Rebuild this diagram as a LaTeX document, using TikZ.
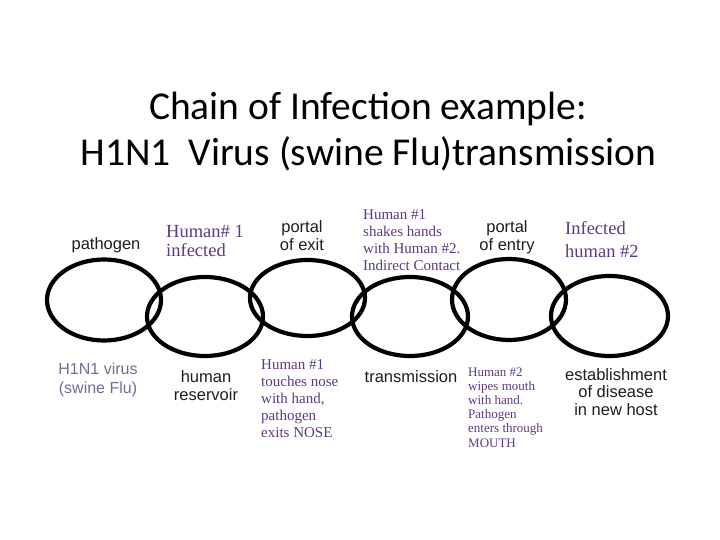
\documentclass[tikz,border=0pt]{standalone}
\usepackage{fontspec}
\usetikzlibrary{shapes.geometric}
\newfontfamily\titlefont{Carlito}
\newfontfamily\labfont{Liberation Sans}
\newfontfamily\notefont{Liberation Serif}
\definecolor{notepurple}{RGB}{94,58,130}
\definecolor{virusgray}{RGB}{122,106,146}
\definecolor{labgray}{RGB}{30,30,30}
\begin{document}
\begin{tikzpicture}[x=1pt,y=-1pt,
  ring/.style={draw=black, line width=4.2pt, ellipse, inner sep=0pt},
  ttl/.style={font=\titlefont\fontsize{39.5}{46}\selectfont, text=black, anchor=base, inner sep=0pt, align=center},
  lab/.style={font=\labfont\fontsize{16.5}{18}\selectfont, text=labgray, anchor=base, inner sep=0pt, align=center},
  labwide/.style={font=\labfont\fontsize{16.5}{17.5}\selectfont, text=labgray, anchor=base, inner sep=0pt, align=center},
  virus/.style={font=\labfont\fontsize{16}{19}\selectfont, text=virusgray, anchor=base, inner sep=0pt, align=center},
  bignote/.style={font=\notefont\fontsize{18.5}{19}\selectfont, text=notepurple, anchor=base west, inner sep=0pt, align=left},
  bignoteb/.style={font=\notefont\fontsize{18.5}{23}\selectfont, text=notepurple, anchor=base west, inner sep=0pt, align=left},
  midnote/.style={font=\notefont\fontsize{15}{17}\selectfont, text=notepurple, anchor=base west, inner sep=0pt, align=left},
  smallnote/.style={font=\notefont\fontsize{13}{14.2}\selectfont, text=notepurple, anchor=base west, inner sep=0pt, align=left}
]
\useasboundingbox (0,0) rectangle (720,540);
\fill[white] (0,0) rectangle (720,540);

\node[ttl] (t1) at (368,120) {Chain of Infection example:};
\node[ttl] (t2) at (368.5,166) {H1N1\ \ Virus (swine Flu)transmission};

\node[ring, minimum width=114, minimum height=81] (e1) at (104,300) {};
\node[ring, minimum width=116, minimum height=79] (e2) at (205,316.5) {};
\node[ring, minimum width=115, minimum height=76] (e3) at (307.5,298) {};
\node[ring, minimum width=116, minimum height=79] (e4) at (410,316.5) {};
\node[ring, minimum width=114, minimum height=81] (e5) at (509,299.5) {};
\node[ring, minimum width=117, minimum height=80] (e6) at (609.5,316) {};

\node[lab] (l1) at (106,249) {pathogen};
\node[lab] (l2) at (302,251) {portal\\of exit};
\node[lab] (l3) at (507,251) {portal\\of entry};
\node[lab] (l4) at (206,400) {human\\reservoir};
\node[lab] (l5) at (411,382) {transmission};
\node[labwide] (l6) at (616,415) {establishment\\of disease\\in new host};

\node[virus] (v1) at (98,393) {H1N1 virus\\(swine Flu)};

\node[bignote] (n1) at (166,256) {Human\# 1\\infected};
\node[bignoteb] (n2) at (565,257) {Infected\\human \#2};
\node[midnote] (n3) at (363,270) {Human \#1\\shakes hands\\with Human \#2.\\Indirect Contact};
\node[midnote] (n4) at (261,437) {Human \#1\\touches nose\\with hand,\\pathogen\\exits NOSE};
\node[smallnote] (n5) at (468,447) {Human \#2\\wipes mouth\\with hand.\\Pathogen\\enters through\\MOUTH};
\end{tikzpicture}
\end{document}
